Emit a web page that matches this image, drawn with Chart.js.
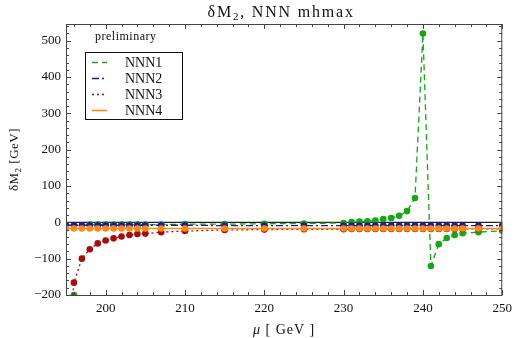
<!DOCTYPE html>
<html>
<head>
<meta charset="utf-8">
<script src="https://cdn.jsdelivr.net/npm/chart.js@4/dist/chart.umd.min.js"></script>
<style>
  html, body { margin: 0; padding: 0; background: #fff; }
</style>
</head>
<body>
<canvas id="c" width="518" height="338"></canvas>
<script>
// mu values [GeV]
const mu = [195,196,197,198,199,200,201,202,203,204,205,207,210,215,220,225,230,
            231,232,233,234,235,236,237,238,239,240,241,242,243,244,245,247,250];

const nnn1 = [null,-200,null,-6,-6,-6,-6,-6,-6,-6,-6,-6,-5,-5,-4,-3,-2,
              1,2,3,5,9,12,18,31,67,520,-120,-60,-43,-35,-30,-27,-23];
const nnn2 = [-8,-8,-8,-8,-8,-8,-8,-8,-8,-8,-8,-8,-8,-9,-9,-9,-9,
              -9,-9,-9,-9,-9,-9,-9,-9,-9,-9,-9,-9,-9,-9,-9,-9,-9];
const nnn3 = [-420,-166,-100,-74,-58,-50,-44,-39,-35,-32,-31,-27,-24,-21,-20,-19,-19,
              -18,-18,-18,-18,-18,-18,-18,-18,-18,-18,-18,-18,-18,-18,-18,-18,-18];
const nnn4 = [-17,-17,-17,-17,-17,-17,-17,-17,-17,-17,-17,-17,-17,-17,-17,-17,-17,
              -17,-17,-17,-17,-17,-17,-17,-17,-17,-17,-17,-17,-17,-17,-17,-17,-17];

const xTicks = [200,210,220,230,240,250];
const yTicks = [-200,-100,0,100,200,300,400,500];

const serif = '"Liberation Serif", "DejaVu Serif", serif';
const pts = arr => mu.map((x,i) => ({x, y: arr[i]}));

const series = [
  {label:'NNN1', data:nnn1, color:'#12a812', dash:[6,4], order:4},
  {label:'NNN2', data:nnn2, color:'#1c1c9c', dash:[7,3,2,3], order:3},
  {label:'NNN3', data:nnn3, color:'#a80c0c', dash:[2,3], order:2},
  {label:'NNN4', data:nnn4, color:'#ff8a12', dash:[], order:1}
];

const datasets = series.map(s => ({
  label: s.label, data: pts(s.data), order: s.order,
  borderColor: s.color, backgroundColor: s.color, borderWidth: 1.3,
  borderDash: s.dash, pointRadius: 3.3, pointBorderWidth: 0,
  pointBackgroundColor: s.color, spanGaps: false, tension: 0
}));
datasets.push({label:'zero', data:[{x:195,y:0},{x:250,y:0}], order:10,
  borderColor:'#222', borderWidth:1.4, pointRadius:0});

function drawRich(ctx, parts, x, y, align, spacing) {
  ctx.letterSpacing = (spacing || 0) + 'px';
  let w = 0;
  parts.forEach(p => { ctx.font = p.f; w += ctx.measureText(p.t).width; });
  let cx = align === 'center' ? x - w/2 : x;
  parts.forEach(p => {
    ctx.font = p.f;
    ctx.fillText(p.t, cx, y + (p.dy || 0));
    cx += ctx.measureText(p.t).width;
  });
  ctx.letterSpacing = '0px';
}

const decor = {
  id: 'decor',
  afterDraw(chart) {
    const ctx = chart.ctx, a = chart.chartArea;
    const xs = chart.scales.x, ys = chart.scales.y;
    ctx.save();
    // frame
    ctx.strokeStyle = '#444'; ctx.lineWidth = 1; ctx.setLineDash([]);
    ctx.strokeRect(a.left + 0.5, a.top + 0.5, a.right - a.left - 1, a.bottom - a.top);
    // inward ticks
    ctx.beginPath();
    for (let v = 196; v <= 250; v += 2) {
      const px = Math.round(xs.getPixelForValue(v)) + 0.5;
      const len = v % 10 === 0 ? 5 : 3;
      ctx.moveTo(px, a.bottom); ctx.lineTo(px, a.bottom - len);
      ctx.moveTo(px, a.top); ctx.lineTo(px, a.top + len);
    }
    for (let v = -200; v <= 540; v += 20) {
      const py = Math.round(ys.getPixelForValue(v)) + 0.5;
      const len = v % 100 === 0 ? 5 : 3;
      ctx.moveTo(a.left, py); ctx.lineTo(a.left + len, py);
      ctx.moveTo(a.right, py); ctx.lineTo(a.right - len, py);
    }
    ctx.stroke();

    ctx.fillStyle = '#111';
    ctx.textBaseline = 'alphabetic';
    // title
    const f16 = '16px ' + serif, f11 = '11px ' + serif;
    drawRich(ctx, [{t:'\u03b4M', f:f16}, {t:'2', f:f11, dy:3}, {t:', NNN mhmax', f:f16}],
      (a.left + a.right)/2 - 3, 17, 'center', 1.8);
    // x title
    drawRich(ctx, [{t:'\u03bc', f:'italic 14px ' + serif}, {t:' [ GeV ]', f:'14px ' + serif}],
      (a.left + a.right)/2, 334, 'center', 1);
    // y title
    ctx.save();
    ctx.translate(18, (a.top + a.bottom)/2);
    ctx.rotate(-Math.PI/2);
    drawRich(ctx, [{t:'\u03b4M', f:'13px ' + serif}, {t:'2', f:'9px ' + serif, dy:3}, {t:' [GeV]', f:'13px ' + serif}],
      0, 0, 'center', 0.5);
    ctx.restore();

    // legend
    ctx.font = '12px ' + serif;
    ctx.letterSpacing = '0.5px';
    ctx.fillText('preliminary', 95, 40);
    ctx.letterSpacing = '0px';
    const bx = 85, by = 52, bw = 97, bh = 67;
    ctx.fillStyle = '#fff';
    ctx.fillRect(bx, by, bw, bh);
    ctx.strokeStyle = '#111'; ctx.lineWidth = 1;
    ctx.strokeRect(bx + 0.5, by + 0.5, bw, bh);
    series.forEach((s, i) => {
      const ry = 62 + i*16;
      ctx.strokeStyle = s.color; ctx.lineWidth = 1.6;
      ctx.setLineDash(s.dash);
      ctx.beginPath(); ctx.moveTo(92, ry + 0.5); ctx.lineTo(107, ry + 0.5); ctx.stroke();
      ctx.setLineDash([]);
      ctx.fillStyle = '#111';
      ctx.font = '14px ' + serif;
      ctx.fillText(s.label, 125, ry + 5);
    });
    ctx.restore();
  }
};

new Chart(document.getElementById('c'), {
  type: 'line',
  data: { datasets },
  options: {
    responsive: false,
    animation: false,
    layout: { padding: { top: 24, right: 11, left: 0, bottom: 0 } },
    plugins: { legend: { display: false }, tooltip: { enabled: false }, title: { display: false } },
    scales: {
      x: {
        type: 'linear', min: 195, max: 250,
        afterBuildTicks: s => { s.ticks = xTicks.map(v => ({value: v})); },
        afterFit: s => { s.height = 43; },
        grid: { display: false, drawTicks: false },
        border: { display: false },
        ticks: { font: { family: serif, size: 13 }, color: '#111', padding: 6, maxRotation: 0 }
      },
      y: {
        type: 'linear', min: -200, max: 546,
        afterBuildTicks: s => { s.ticks = yTicks.map(v => ({value: v})); },
        afterFit: s => { s.width = 66; },
        grid: { display: false, drawTicks: false },
        border: { display: false },
        ticks: { font: { family: serif, size: 13 }, color: '#111', padding: 5,
                 callback: v => v < 0 ? '\u2212' + Math.abs(v) : String(v) }
      }
    }
  },
  plugins: [decor]
});
</script>
</body>
</html>
